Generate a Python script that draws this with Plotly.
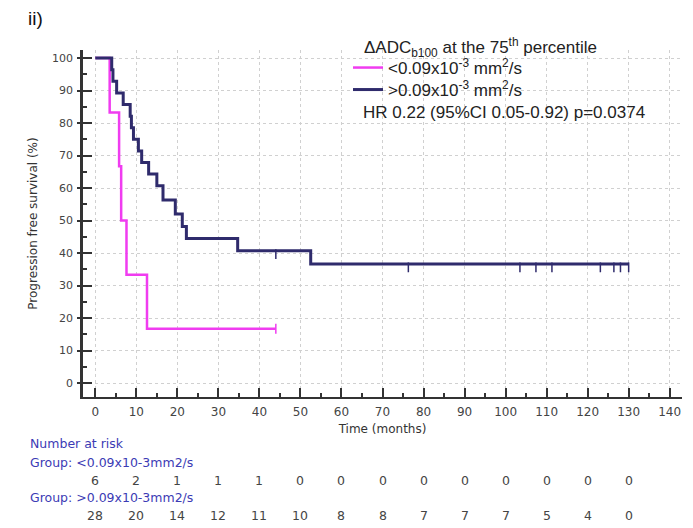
import numpy as np
import plotly.graph_objects as go

# ---- data ----
times_lo = [0, 3.5, 5.8, 6.3, 7.6, 12.6, 44]
surv_lo = [100, 83.3, 66.7, 50.0, 33.3, 16.7, 16.7]
censor_lo = [44]

times_hi = [0, 4.0, 4.3, 5.2, 6.8, 8.5, 8.8, 9.3, 10.5, 11.3, 13.0, 15.0, 16.5, 19.5, 21.2, 22.2, 34.7, 52.5, 130]
surv_hi = [100, 96.4, 92.9, 89.3, 85.7, 82.1, 78.6, 75.0, 71.4, 67.9, 64.3, 60.7, 56.3, 52.0, 48.2, 44.5, 40.7, 36.6, 36.6]
censor_hi = [44, 76.3, 103.5, 107.4, 111.3, 123.1, 126.4, 128.0, 130]

risk_times = [0, 10, 20, 30, 40, 50, 60, 70, 80, 90, 100, 110, 120, 130]
risk_lo = [6, 2, 1, 1, 1, 0, 0, 0, 0, 0, 0, 0, 0, 0]
risk_hi = [28, 20, 14, 12, 11, 10, 8, 8, 7, 7, 7, 5, 4, 0]

x_ticks = list(range(0, 141, 10))
y_ticks = list(range(0, 101, 10))

PINK = "#f03cf0"
NAVY = "#2f2b6c"
SANS = "Liberation Sans, Arial"
WIDE = "DejaVu Sans"


def step_value(t_arr, s_arr, t):
    idx = np.searchsorted(np.array(t_arr), t, side="right") - 1
    return s_arr[idx]


fig = go.Figure()
fig.add_trace(go.Scatter(x=times_lo, y=surv_lo, mode="lines", line=dict(color=PINK, width=2.5, shape="hv"),
                         name="&lt;0.09x10<sup>-3</sup> mm<sup>2</sup>/s", legend="legend"))
fig.add_trace(go.Scatter(x=times_hi, y=surv_hi, mode="lines", line=dict(color=NAVY, width=3, shape="hv"),
                         name="&gt;0.09x10<sup>-3</sup> mm<sup>2</sup>/s", legend="legend2"))
fig.add_trace(go.Scatter(x=censor_lo, y=[step_value(times_lo, surv_lo, t) for t in censor_lo], mode="markers",
                         marker=dict(symbol="line-ns", size=7, line=dict(color=PINK, width=1.5)),
                         showlegend=False, hoverinfo="skip"))
fig.add_trace(go.Scatter(x=censor_hi, y=[step_value(times_hi, surv_hi, t) - 1 for t in censor_hi], mode="markers",
                         marker=dict(symbol="line-ns", size=7, line=dict(color=NAVY, width=1.5)),
                         showlegend=False, hoverinfo="skip"))
# empty trace so the overlay axis (inside ticks) is drawn
fig.add_trace(go.Scatter(x=[], y=[], yaxis="y2", showlegend=False, hoverinfo="skip"))

W, H = 693, 528
L, R, T, B = 83, 11, 50, 131
ph = H - T - B
pw = W - L - R


def py(p):
    return (H - B - p) / ph


def px(p):
    return (p - L) / pw


leg_common = dict(xanchor="left", yanchor="middle", bgcolor="rgba(0,0,0,0)",
                  font=dict(family=SANS, size=17, color="#222"), itemwidth=30)

fig.update_layout(
    width=W, height=H,
    margin=dict(l=L, r=R, t=T, b=B),
    paper_bgcolor="white", plot_bgcolor="white",
    font=dict(family=SANS, color="#222"),
    xaxis=dict(range=[-3, 143], tickvals=x_ticks, ticks="inside", ticklen=9, tickwidth=1.5, tickcolor="#333",
               minor=dict(ticks="inside", dtick=5, tick0=0, ticklen=4, tickcolor="#333", showgrid=False),
               showgrid=True, gridcolor="#d0d0d0", griddash="dot", gridwidth=1,
               showline=True, linecolor="#333", linewidth=2, zeroline=False,
               tickfont=dict(family=WIDE, size=12, color="#444"), ticklabelstandoff=3,
               title=dict(text="Time (months)", font=dict(family=WIDE, size=12, color="#333"), standoff=6)),
    yaxis=dict(range=[-4.3, 102.5], tickvals=y_ticks, ticks="outside", ticklen=3, tickwidth=1.5, tickcolor="#333",
               showgrid=True, gridcolor="#d0d0d0", griddash="dot", gridwidth=1,
               showline=True, linecolor="#333", linewidth=2.5, zeroline=False,
               tickfont=dict(family=WIDE, size=11, color="#444"), ticklabelstandoff=2,
               title=dict(text="Progression free survival (%)", font=dict(family=WIDE, size=12, color="#333"),
                          standoff=12)),
    yaxis2=dict(overlaying="y", matches="y", anchor="x", side="left", showgrid=False, showline=False,
                zeroline=False, showticklabels=False, tickvals=y_ticks, ticks="inside", ticklen=9,
                tickwidth=1.5, tickcolor="#333",
                minor=dict(ticks="inside", dtick=5, tick0=0, ticklen=4, tickcolor="#333", showgrid=False)),
    legend=dict(x=px(348), y=py(68), **leg_common),
    legend2=dict(x=px(348), y=py(90), **leg_common),
    showlegend=True,
)

annotations = [
    dict(text="ii)", x=px(26), y=py(19), xref="paper", yref="paper", xanchor="left", yanchor="middle",
         showarrow=False, font=dict(family=SANS, size=19, color="#111")),
    dict(text="ΔADC<sub>b100</sub> at the 75<sup>th</sup> percentile", x=px(362), y=py(48),
         xref="paper", yref="paper", xanchor="left", yanchor="middle", showarrow=False,
         font=dict(family=SANS, size=17, color="#222")),
    dict(text="HR 0.22 (95%CI 0.05-0.92) p=0.0374", x=px(361), y=py(112), xref="paper", yref="paper",
         xanchor="left", yanchor="middle", showarrow=False, font=dict(family=SANS, size=17, color="#222")),
    dict(text="Number at risk", x=px(28), y=py(443), xref="paper", yref="paper", xanchor="left",
         yanchor="middle", showarrow=False, font=dict(family=WIDE, size=12.5, color="#3b3bb5")),
    dict(text="Group: &lt;0.09x10-3mm2/s", x=px(28), y=py(462), xref="paper", yref="paper", xanchor="left",
         yanchor="middle", showarrow=False, font=dict(family=WIDE, size=12.5, color="#3b3bb5")),
    dict(text="Group: &gt;0.09x10-3mm2/s", x=px(28), y=py(497), xref="paper", yref="paper", xanchor="left",
         yanchor="middle", showarrow=False, font=dict(family=WIDE, size=12.5, color="#3b3bb5")),
]
for t, v in zip(risk_times, risk_lo):
    annotations.append(dict(text=str(v), x=t, y=py(480), xref="x", yref="paper", xanchor="center",
                            yanchor="middle", showarrow=False, font=dict(family=WIDE, size=12.5, color="#444")))
for t, v in zip(risk_times, risk_hi):
    annotations.append(dict(text=str(v), x=t, y=py(515), xref="x", yref="paper", xanchor="center",
                            yanchor="middle", showarrow=False, font=dict(family=WIDE, size=12.5, color="#444")))
fig.update_layout(annotations=annotations)

fig.write_html("out.html")
